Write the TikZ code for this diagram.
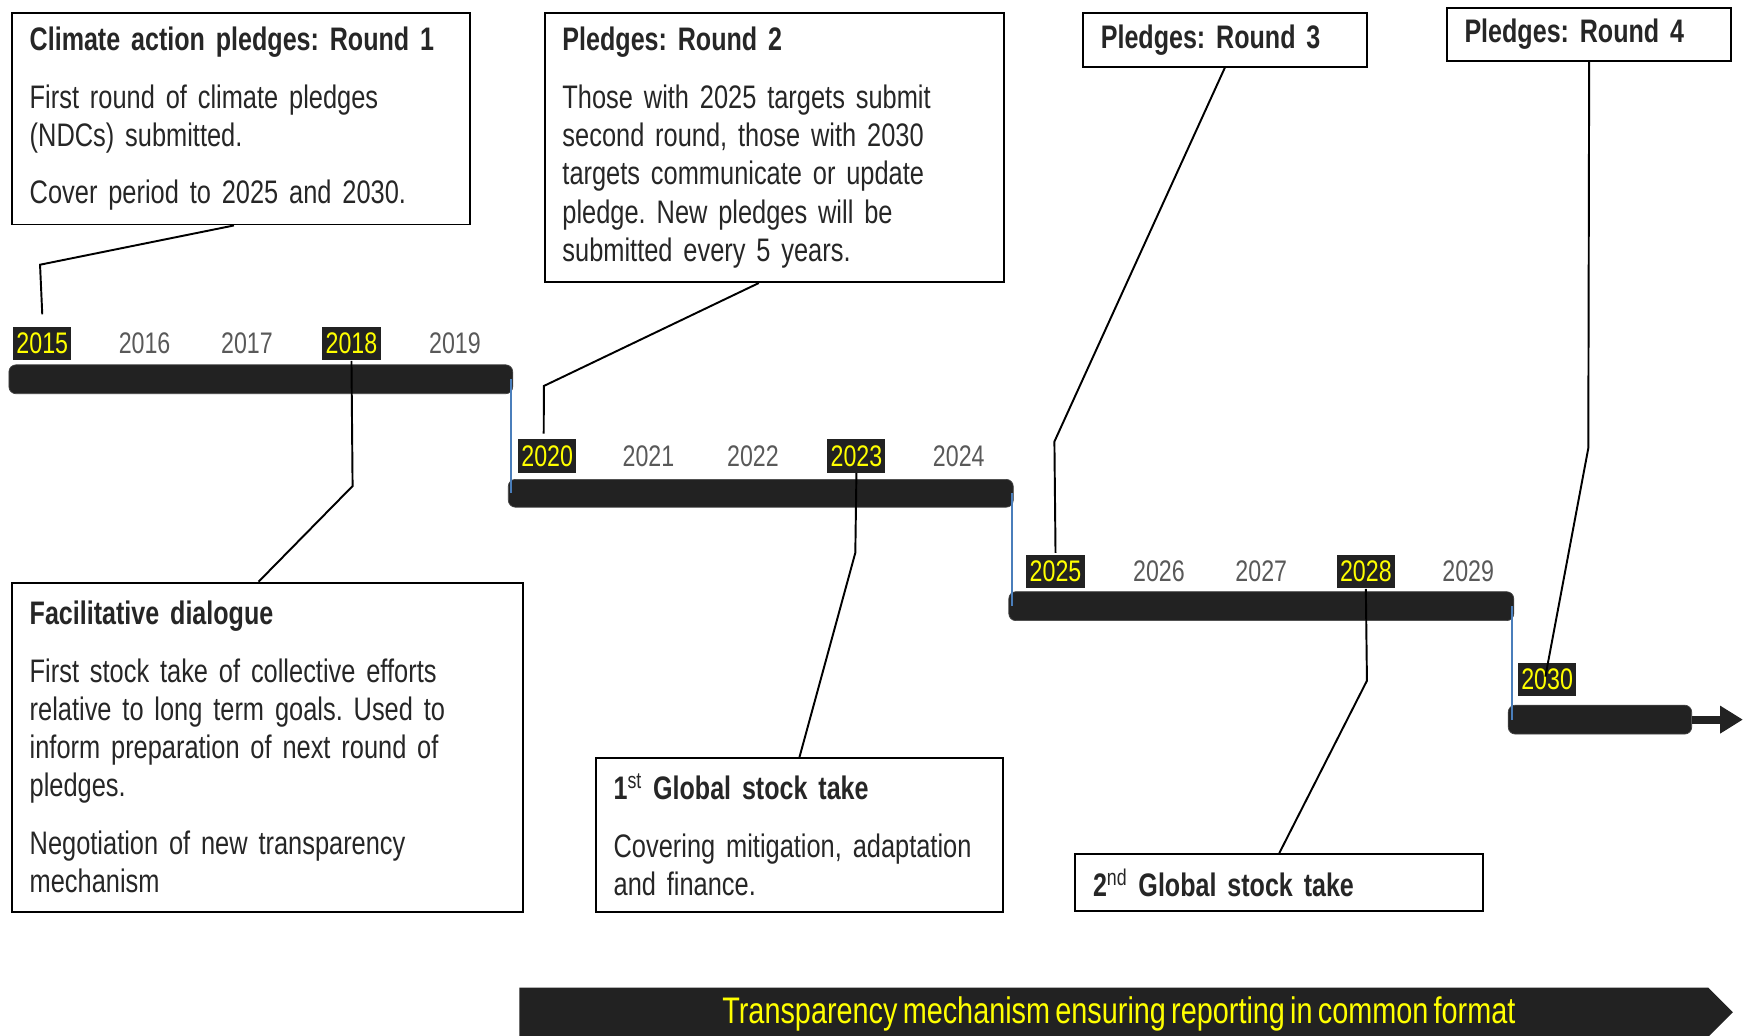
\documentclass[tikz,border=0pt]{standalone}
\usepackage{fontspec}
\setmainfont{Liberation Sans}[FakeStretch=0.78, WordSpace=0.65, BoldFeatures={FakeStretch=0.77}]
\usetikzlibrary{arrows.meta,fit}
\frenchspacing

\definecolor{bardark}{HTML}{222222}
\definecolor{yeargray}{HTML}{595959}
\definecolor{linkblue}{HTML}{4A7EBB}
\definecolor{hotyellow}{HTML}{FFFF00}
\definecolor{textdark}{HTML}{262626}

\newcommand{\bodysize}{\fontsize{18.5}{21.7}\selectfont}
\newcommand{\yearsize}{\fontsize{16.9}{19}\selectfont}
\newcommand{\bannersize}{\fontsize{21}{23}\selectfont}

\begin{document}
\begin{tikzpicture}[x=0.0222cm, y=-0.0222cm,
    infobox/.style={draw=black, line width=1.1pt, anchor=north west, inner xsep=10pt, inner ysep=6pt, align=left, font=\bodysize, text=textdark},
    bar/.style={fill=bardark, draw=bardark!85, rounded corners=4pt, inner sep=0pt},
    yearlbl/.style={font=\yearsize, text=yeargray, inner sep=1pt},
    yearhot/.style={font=\yearsize, fill=bardark, text=hotyellow, minimum width=33pt, minimum height=19pt, inner sep=1pt},
    callout/.style={draw=black, line width=1.1pt},
    joint/.style={draw=linkblue, line width=1pt}]

    \useasboundingbox (0,0) rectangle (1568,931);

    % Timeline bars
    \node[bar, fit={(8,328) (461,354)}] (bar1) {};
    \node[bar, fit={(457,431) (911,456)}] (bar2) {};
    \node[bar, fit={(907,532) (1361,558)}] (bar3) {};
    \node[bar, fit={(1356,634) (1521,660)}] (bar4) {};
    \coordinate (tip) at (1567,647);
    \draw[bardark, line width=4.5pt, -{Triangle[length=13pt,width=15pt]}] (bar4.east) -- (tip);

    % Steps between the bars
    \draw[joint] ([xshift=-1pt]bar1.east) -- ([xshift=-1pt]bar1.east |- bar2.west);
    \draw[joint] ([xshift=-1pt]bar2.east) -- ([xshift=-1pt]bar2.east |- bar3.west);
    \draw[joint] ([xshift=-1pt]bar3.east) -- ([xshift=-1pt]bar3.east |- bar4.west);

    % Years
    \foreach \yr/\xx in {2016/130, 2017/222, 2019/409}
        \node[yearlbl] (y\yr) at (\xx,309) {\yr};
    \foreach \yr/\xx in {2021/583, 2022/677, 2024/862}
        \node[yearlbl] (y\yr) at (\xx,410) {\yr};
    \foreach \yr/\xx in {2026/1042, 2027/1134, 2029/1320}
        \node[yearlbl] (y\yr) at (\xx,514) {\yr};
    \node[yearhot] (y2015) at (38,309) {2015};
    \node[yearhot] (y2018) at (316,309) {2018};
    \node[yearhot] (y2020) at (492,410) {2020};
    \node[yearhot] (y2023) at (770,410) {2023};
    \node[yearhot] (y2025) at (949,514) {2025};
    \node[yearhot] (y2028) at (1228,514) {2028};
    \node[yearhot] (y2030) at (1391,611) {2030};

    % Pledge boxes above the line
    \node[infobox, text width=240pt, minimum width=260pt, minimum height=120pt] (pledge1) at (10,11)
        {\textbf{Climate action pledges: Round 1}\\[11pt]
         First round of climate pledges\\
         (NDCs) submitted.\\[11pt]
         Cover period to 2025 and 2030.};
    \node[infobox, text width=241pt, minimum width=261pt, minimum height=152.7pt] (pledge2) at (489,11)
        {\textbf{Pledges: Round 2}\\[11pt]
         Those with 2025 targets submit\\
         second round, those with 2030\\
         targets communicate or update\\
         pledge. New pledges will be\\
         submitted every 5 years.};
    \node[infobox, text width=141pt, minimum width=161pt, minimum height=30.3pt] (pledge3) at (973,11)
        {\textbf{Pledges: Round 3}};
    \node[infobox, text width=141.6pt, minimum width=161.6pt, minimum height=30.3pt] (pledge4) at (1300,6)
        {\textbf{Pledges: Round 4}};

    % Stock take boxes below the line
    \node[infobox, text width=270pt, minimum width=290pt, minimum height=186.8pt] (dialogue) at (10,523)
        {\textbf{Facilitative dialogue}\\[11pt]
         First stock take of collective efforts\\
         relative to long term goals. Used to\\
         inform preparation of next round of\\
         pledges.\\[11pt]
         Negotiation of new transparency\\
         mechanism};
    \node[infobox, text width=211pt, minimum width=231pt, minimum height=87.1pt] (gst1) at (535,681)
        {\textbf{1\textsuperscript{\mdseries st} Global stock take}\\[11pt]
         Covering mitigation, adaptation\\
         and finance.};
    \node[infobox, text width=211.6pt, minimum width=231.6pt, minimum height=32.2pt] (gst2) at (966,767)
        {\textbf{2\textsuperscript{\mdseries nd} Global stock take}};

    % Callout lines
    \draw[callout] ([xshift=-4pt]pledge1.south) -- (36,238) -- ([yshift=7pt]y2015.north);
    \draw[callout] ([xshift=-9pt]pledge2.south) -- (489,347) -- ([xshift=-2pt,yshift=3pt]y2020.north);
    \draw[callout] (pledge3.south) -- (948,397) -- ([yshift=1pt]y2025.north);
    \draw[callout] (pledge4.south) -- (1428,403) -- ([xshift=-1pt,yshift=-8pt]y2030.north);
    \draw[callout] (y2018.south) -- (317,437) -- ([xshift=-5pt]dialogue.north);
    \draw[callout] (y2023.south) -- (769,497) -- (gst1.north);
    \draw[callout] (y2028.south) -- (1229,612) -- (gst2.north);

    % Transparency banner
    \fill[bardark] (467,888) -- (1536,888) -- (1558,910) -- (1536,932) -- (467,932) -- cycle;
    \node[font=\bannersize, text=hotyellow] (banner) at (1006,912)
        {Transparency mechanism ensuring reporting in common format};
\end{tikzpicture}
\end{document}
